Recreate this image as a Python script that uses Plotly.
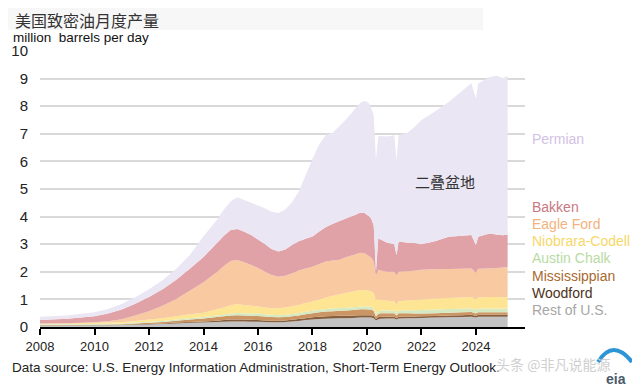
import plotly.graph_objects as go

dates = ["2008-01", "2009-01", "2010-01", "2010-07", "2011-01", "2011-07", "2012-01", "2012-07",
         "2013-01", "2013-07", "2014-01", "2014-07", "2014-10", "2015-01", "2015-04", "2015-07",
         "2015-10", "2016-01", "2016-04", "2016-07", "2016-10", "2017-01", "2017-04", "2017-07",
         "2017-10", "2018-01", "2018-04", "2018-07", "2018-10", "2019-01", "2019-04", "2019-07",
         "2019-10", "2019-12", "2020-02", "2020-03", "2020-04", "2020-05", "2020-06", "2020-07",
         "2020-10", "2021-01", "2021-02", "2021-03", "2021-07", "2021-10", "2022-01", "2022-07",
         "2023-01", "2023-07", "2023-11", "2024-01", "2024-02", "2024-07", "2024-10", "2025-01",
         "2025-03"]

rest_us = [0.05, 0.05, 0.06, 0.06, 0.07, 0.08, 0.09, 0.11, 0.13, 0.15, 0.16, 0.18, 0.19, 0.20, 0.20, 0.20,
           0.19, 0.19, 0.18, 0.17, 0.17, 0.18, 0.20, 0.22, 0.25, 0.27, 0.29, 0.30, 0.31, 0.32, 0.32, 0.33,
           0.34, 0.34, 0.34, 0.34, 0.32, 0.24, 0.28, 0.30, 0.31, 0.31, 0.27, 0.31, 0.32, 0.32, 0.33, 0.34,
           0.35, 0.36, 0.37, 0.34, 0.37, 0.37, 0.37, 0.37, 0.37]
woodford = [0.01, 0.01, 0.01, 0.01, 0.01, 0.02, 0.02, 0.02, 0.03, 0.03, 0.04, 0.05, 0.06, 0.07, 0.07, 0.07,
            0.07, 0.06, 0.06, 0.06, 0.06, 0.06, 0.06, 0.07, 0.07, 0.08, 0.08, 0.09, 0.09, 0.09, 0.09, 0.09,
            0.09, 0.09, 0.09, 0.09, 0.08, 0.06, 0.07, 0.07, 0.06, 0.06, 0.05, 0.06, 0.06, 0.06, 0.06, 0.06,
            0.07, 0.07, 0.07, 0.06, 0.07, 0.07, 0.07, 0.07, 0.07]
mississippian = [0.01, 0.01, 0.01, 0.02, 0.02, 0.03, 0.04, 0.05, 0.07, 0.09, 0.11, 0.13, 0.14, 0.15, 0.16, 0.15,
                 0.15, 0.15, 0.14, 0.13, 0.12, 0.12, 0.13, 0.13, 0.14, 0.15, 0.16, 0.17, 0.17, 0.18, 0.19, 0.20,
                 0.21, 0.21, 0.20, 0.20, 0.18, 0.08, 0.12, 0.13, 0.13, 0.13, 0.10, 0.13, 0.12, 0.11, 0.10, 0.10,
                 0.10, 0.10, 0.10, 0.09, 0.09, 0.09, 0.09, 0.09, 0.09]
austin_chalk = [0.03, 0.03, 0.03, 0.03, 0.03, 0.03, 0.04, 0.04, 0.04, 0.05, 0.05, 0.06, 0.06, 0.07, 0.08, 0.08,
                0.08, 0.09, 0.08, 0.08, 0.08, 0.08, 0.08, 0.08, 0.09, 0.09, 0.09, 0.09, 0.10, 0.10, 0.10, 0.10,
                0.10, 0.10, 0.10, 0.10, 0.10, 0.08, 0.09, 0.10, 0.10, 0.10, 0.09, 0.10, 0.11, 0.12, 0.13, 0.13,
                0.13, 0.13, 0.14, 0.13, 0.14, 0.14, 0.14, 0.14, 0.14]
niobrara = [0.03, 0.03, 0.04, 0.04, 0.05, 0.06, 0.08, 0.10, 0.12, 0.14, 0.16, 0.22, 0.26, 0.30, 0.32, 0.30,
            0.28, 0.25, 0.25, 0.24, 0.25, 0.27, 0.28, 0.30, 0.32, 0.33, 0.38, 0.42, 0.46, 0.50, 0.54, 0.57,
            0.60, 0.60, 0.58, 0.56, 0.54, 0.52, 0.45, 0.38, 0.35, 0.33, 0.30, 0.33, 0.35, 0.37, 0.38, 0.40,
            0.40, 0.41, 0.41, 0.38, 0.41, 0.42, 0.42, 0.41, 0.41]
eagle_ford = [0.00, 0.01, 0.02, 0.05, 0.10, 0.20, 0.30, 0.45, 0.62, 0.85, 1.10, 1.35, 1.50, 1.60, 1.60, 1.55,
              1.48, 1.40, 1.30, 1.20, 1.14, 1.15, 1.20, 1.25, 1.25, 1.26, 1.28, 1.30, 1.28, 1.25, 1.30, 1.32,
              1.35, 1.33, 1.25, 1.22, 1.15, 0.87, 1.06, 1.07, 1.05, 1.07, 1.05, 1.07, 1.06, 1.06, 1.07, 1.06,
              1.05, 1.04, 1.03, 0.97, 1.03, 1.03, 1.05, 1.08, 1.09]
bakken = [0.12, 0.16, 0.22, 0.28, 0.35, 0.42, 0.52, 0.60, 0.70, 0.80, 0.92, 1.05, 1.10, 1.12, 1.12, 1.10,
          1.08, 1.03, 1.00, 0.95, 0.92, 0.95, 1.02, 1.06, 1.08, 1.10, 1.18, 1.25, 1.33, 1.40, 1.40, 1.42,
          1.45, 1.46, 1.44, 1.40, 1.30, 0.15, 1.15, 1.12, 1.05, 1.00, 0.74, 1.10, 1.03, 1.00, 0.93, 1.02,
          1.17, 1.20, 1.21, 1.00, 1.16, 1.27, 1.21, 1.16, 1.18]
permian = [0.12, 0.12, 0.14, 0.16, 0.20, 0.24, 0.28, 0.32, 0.40, 0.50, 0.75, 0.85, 0.95, 1.05, 1.15, 1.15,
           1.17, 1.23, 1.29, 1.35, 1.39, 1.45, 1.55, 1.80, 2.30, 2.82, 3.15, 3.35, 3.30, 3.45, 3.60, 3.80,
           3.98, 4.07, 4.10, 4.00, 4.00, 4.05, 3.68, 3.75, 3.85, 3.95, 3.45, 3.85, 4.00, 4.21, 4.50, 4.70,
           4.88, 5.25, 5.50, 5.30, 5.55, 5.67, 5.75, 5.70, 5.75]

series_names = ["Rest of U.S.", "Woodford", "Mississippian", "Austin Chalk",
                "Niobrara-Codell", "Eagle Ford", "Bakken", "Permian"]
series_values = [rest_us, woodford, mississippian, austin_chalk, niobrara, eagle_ford, bakken, permian]
fill_colors = ["#c3c3c3", "#86603e", "#cc9664", "#d5eac3", "#fde594", "#f9c9a2", "#e0a2a7", "#ebe6f3"]
label_colors = ["#a6a6a6", "#4d3320", "#a8692f", "#b9dba3", "#f6d768", "#f2b27e", "#c9787f", "#d3c1e4"]
label_y = [0.62, 1.23, 1.85, 2.5, 3.12, 3.73, 4.35, 6.81]

year_ticks = ["2008", "2010", "2012", "2014", "2016", "2018", "2020", "2022", "2024"]

# The page body has an 8px margin, so the figure is shrunk by 8px and the
# plot area is placed so that it lands where the reference has it.
BODY = 8
L, R, T, B = 40, 525, 51, 327          # plot area in reference (page) pixels
PW, PH = R - L, B - T
FIG_W, FIG_H = 640 - BODY, 388 - BODY


def px(x):
    return (x - L) / PW


def py(y):
    return (B - y) / PH


fig = go.Figure()
for name, vals, col in zip(series_names, series_values, fill_colors):
    fig.add_trace(go.Scatter(
        x=[d + "-01" for d in dates], y=vals, name=name, stackgroup="one",
        mode="none", fillcolor=col, line=dict(width=0), hoverinfo="skip"))

fig.update_layout(
    width=FIG_W, height=FIG_H,
    margin=dict(l=L - BODY, r=640 - R, t=T - BODY, b=388 - B, autoexpand=False),
    paper_bgcolor="white", plot_bgcolor="white",
    showlegend=False,
    font=dict(family="Liberation Sans, Arial, sans-serif", color="#222222"),
)
fig.update_xaxes(
    type="date", range=["2008-01-01", "2025-10-20"], automargin=False,
    tickvals=[y + "-01-01" for y in year_ticks], ticktext=year_ticks,
    showgrid=False, showline=True, linecolor="#000000", linewidth=2,
    ticks="outside", ticklen=6, tickwidth=1.5, tickcolor="#000000",
    tickfont=dict(size=13, color="#222222"),
)
fig.update_yaxes(
    range=[0, 10], dtick=1, showgrid=True, gridcolor="#d9d9d9", gridwidth=1.5,
    zeroline=False, showline=False, ticks="", ticklabelstandoff=11, automargin=False,
    tickfont=dict(size=15, color="#222222"),
)

# light title band
fig.add_shape(type="rect", xref="paper", yref="paper",
              x0=px(BODY), x1=px(483), y0=py(30), y1=py(BODY),
              fillcolor="#f7f7f7", line=dict(width=0), layer="below")

anns = []
anns.append(dict(text="美国致密油月度产量", xref="paper", yref="paper",
                 x=px(13), y=py(19.5), xanchor="left", yanchor="middle",
                 showarrow=False, font=dict(size=16, color="#333333",
                                            family="Noto Sans CJK SC, sans-serif")))
anns.append(dict(text="million  barrels per day", xref="paper", yref="paper",
                 x=px(11), y=py(37), xanchor="left", yanchor="middle",
                 showarrow=False, font=dict(size=13.5, color="#111111")))
anns.append(dict(text="二叠盆地", xref="paper", yref="paper",
                 x=px(445), y=py(181), xanchor="center", yanchor="middle",
                 showarrow=False, font=dict(size=15, color="#333333",
                                            family="Noto Sans CJK SC, sans-serif")))
for name, col, ly in zip(series_names, label_colors, label_y):
    anns.append(dict(text=name, xref="paper", yref="y", x=px(530), y=ly,
                     xanchor="left", yanchor="middle", showarrow=False,
                     font=dict(size=14, color=col)))
anns.append(dict(text="Data source: U.S. Energy Information Administration, Short-Term Energy Outlook.",
                 xref="paper", yref="paper", x=px(10), y=py(367),
                 xanchor="left", yanchor="middle", showarrow=False,
                 font=dict(size=13.5, color="#222222")))
anns.append(dict(text="头条 @非凡说能源", xref="paper", yref="paper", x=px(494),
                 y=py(364), xanchor="left", yanchor="middle", showarrow=False,
                 font=dict(size=14, color="#cfcfcf", family="Noto Sans CJK SC, sans-serif")))
anns.append(dict(text="<b>eia</b>", xref="paper", yref="paper", x=px(616),
                 y=py(379), xanchor="center", yanchor="middle", showarrow=False,
                 font=dict(size=14, color="#4a5a6a")))
fig.update_layout(annotations=anns)

# eia logo arc
fig.add_shape(type="path", xref="paper", yref="paper",
              path="M {:.4f},{:.4f} Q {:.4f},{:.4f} {:.4f},{:.4f}".format(
                  px(598), py(362), px(613), py(338), px(632), py(362)),
              line=dict(color="#2c95d6", width=4))

fig.write_html("out.html")
